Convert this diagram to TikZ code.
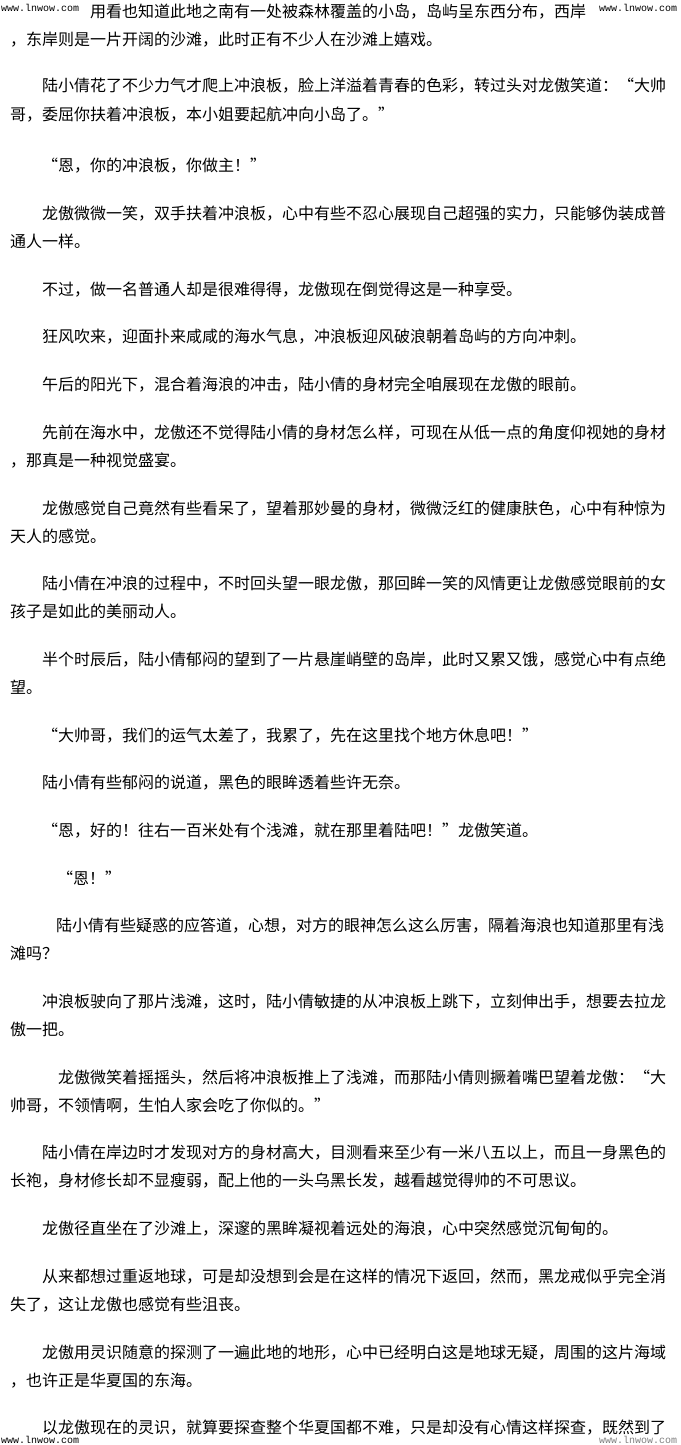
\documentclass[tikz,border=0pt]{standalone}
\usepackage{fontspec}
\newfontfamily\cjk{Noto Sans CJK SC}
\newfontfamily\wmfont{Liberation Mono}
\usepackage{tikz}

\begin{document}
\begin{tikzpicture}[
    x=1pt, y=-1pt,
    txt/.style = {
      anchor=base west,
      inner sep=0pt,
      font=\cjk\fontsize{16}{16}\selectfont
    },
    wmark/.style = {
      anchor=west,
      inner sep=1pt,
      fill=white,
      font=\wmfont\fontsize{10}{10}\selectfont
    }
  ]
    \fill[white] (0,0) rectangle (680,1445);
    \useasboundingbox (0,0) rectangle (680,1445);
    % Page text, line by line
    \node[txt] (l1) at (90,18) {用看也知道此地之南有一处被森林覆盖的小岛，岛屿呈东西分布，西岸};
    \node[txt] (l2) at (10,46) {，东岸则是一片开阔的沙滩，此时正有不少人在沙滩上嬉戏。};
    \node[txt] (l3) at (42,92) {陆小倩花了不少力气才爬上冲浪板，脸上洋溢着青春的色彩，转过头对龙傲笑道：“大帅};
    \node[txt] (l4) at (10,120) {哥，委屈你扶着冲浪板，本小姐要起航冲向小岛了。”};
    \node[txt] (l5) at (42,171) {“恩，你的冲浪板，你做主！”};
    \node[txt] (l6) at (42,219) {龙傲微微一笑，双手扶着冲浪板，心中有些不忍心展现自己超强的实力，只能够伪装成普};
    \node[txt] (l7) at (10,247) {通人一样。};
    \node[txt] (l8) at (42,295) {不过，做一名普通人却是很难得得，龙傲现在倒觉得这是一种享受。};
    \node[txt] (l9) at (42,342) {狂风吹来，迎面扑来咸咸的海水气息，冲浪板迎风破浪朝着岛屿的方向冲刺。};
    \node[txt] (l10) at (42,390) {午后的阳光下，混合着海浪的冲击，陆小倩的身材完全咱展现在龙傲的眼前。};
    \node[txt] (l11) at (42,438) {先前在海水中，龙傲还不觉得陆小倩的身材怎么样，可现在从低一点的角度仰视她的身材};
    \node[txt] (l12) at (10,466) {，那真是一种视觉盛宴。};
    \node[txt] (l13) at (42,514) {龙傲感觉自己竟然有些看呆了，望着那妙曼的身材，微微泛红的健康肤色，心中有种惊为};
    \node[txt] (l14) at (10,542) {天人的感觉。};
    \node[txt] (l15) at (42,589) {陆小倩在冲浪的过程中，不时回头望一眼龙傲，那回眸一笑的风情更让龙傲感觉眼前的女};
    \node[txt] (l16) at (10,617) {孩子是如此的美丽动人。};
    \node[txt] (l17) at (42,665) {半个时辰后，陆小倩郁闷的望到了一片悬崖峭壁的岛岸，此时又累又饿，感觉心中有点绝};
    \node[txt] (l18) at (10,693) {望。};
    \node[txt] (l19) at (42,741) {“大帅哥，我们的运气太差了，我累了，先在这里找个地方休息吧！”};
    \node[txt] (l20) at (42,788) {陆小倩有些郁闷的说道，黑色的眼眸透着些许无奈。};
    \node[txt] (l21) at (42,836) {“恩，好的！往右一百米处有个浅滩，就在那里着陆吧！”龙傲笑道。};
    \node[txt] (l22) at (57,884) {“恩！”};
    \node[txt] (l23) at (56,931) {陆小倩有些疑惑的应答道，心想，对方的眼神怎么这么厉害，隔着海浪也知道那里有浅};
    \node[txt] (l24) at (10,959) {滩吗？};
    \node[txt] (l25) at (42,1007) {冲浪板驶向了那片浅滩，这时，陆小倩敏捷的从冲浪板上跳下，立刻伸出手，想要去拉龙};
    \node[txt] (l26) at (10,1035) {傲一把。};
    \node[txt] (l27) at (58,1083) {龙傲微笑着摇摇头，然后将冲浪板推上了浅滩，而那陆小倩则撅着嘴巴望着龙傲：“大};
    \node[txt] (l28) at (10,1111) {帅哥，不领情啊，生怕人家会吃了你似的。”};
    \node[txt] (l29) at (42,1158) {陆小倩在岸边时才发现对方的身材高大，目测看来至少有一米八五以上，而且一身黑色的};
    \node[txt] (l30) at (10,1186) {长袍，身材修长却不显瘦弱，配上他的一头乌黑长发，越看越觉得帅的不可思议。};
    \node[txt] (l31) at (42,1234) {龙傲径直坐在了沙滩上，深邃的黑眸凝视着远处的海浪，心中突然感觉沉甸甸的。};
    \node[txt] (l32) at (42,1282) {从来都想过重返地球，可是却没想到会是在这样的情况下返回，然而，黑龙戒似乎完全消};
    \node[txt] (l33) at (10,1310) {失了，这让龙傲也感觉有些沮丧。};
    \node[txt] (l34) at (42,1358) {龙傲用灵识随意的探测了一遍此地的地形，心中已经明白这是地球无疑，周围的这片海域};
    \node[txt] (l35) at (10,1386) {，也许正是华夏国的东海。};
    \node[txt] (l36) at (42,1433) {以龙傲现在的灵识，就算要探查整个华夏国都不难，只是却没有心情这样探查，既然到了};
    % Site marks in the corners
    \node[wmark] (wmtl) at (0,8) {www.lnwow.com};
    \node[wmark] (wmtr) at (598,8) {www.lnwow.com};
    \node[wmark] (wmbl) at (0,1440) {www.lnwow.com};
    \node[wmark, text=gray] (wmbr) at (598,1440) {www.lnwow.com};
  \end{tikzpicture}
\end{document}
